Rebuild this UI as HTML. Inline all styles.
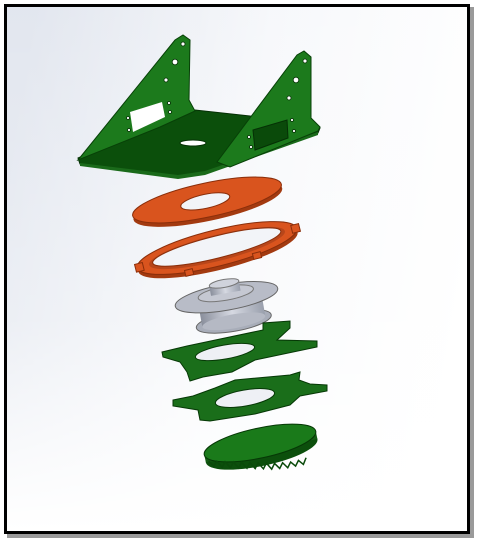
<!DOCTYPE html>
<html><head><meta charset="utf-8"><style>
html,body{margin:0;padding:0;background:#fff;width:478px;height:541px;overflow:hidden}
svg{display:block}
</style></head><body>
<svg width="478" height="541" viewBox="0 0 478 541">
<defs>
<linearGradient id="bg" x1="0" y1="0.3" x2="1" y2="0.5">
<stop offset="0" stop-color="#d6dce8"/><stop offset="0.5" stop-color="#f3f5f9"/><stop offset="1" stop-color="#ffffff"/>
</linearGradient>
<linearGradient id="bg2" x1="0" y1="0" x2="0" y2="1">
<stop offset="0" stop-color="#fff" stop-opacity="0.3"/><stop offset="0.6" stop-color="#fff" stop-opacity="0.5"/><stop offset="1" stop-color="#fff" stop-opacity="1"/>
</linearGradient>
<linearGradient id="silver" x1="0" y1="0" x2="1" y2="0">
<stop offset="0" stop-color="#8a8f9c"/><stop offset="0.5" stop-color="#d6d9e2"/><stop offset="1" stop-color="#9aa0ad"/>
</linearGradient>
</defs>
<rect x="7" y="7" width="467" height="531" fill="#9a9a9a"/>
<rect x="4" y="4" width="466" height="530" fill="#000"/>
<rect x="7" y="7" width="460" height="524" fill="url(#bg)"/>
<rect x="7" y="7" width="460" height="524" fill="url(#bg2)"/>

<g>
<polygon points="78,158 195,110 250,116 320,128 318,133 205,172 178,176 80,164" fill="#0b4f0b" stroke="#053005" stroke-width="1"/>
<polygon points="80,163 178,175 205,171 318,132 318,135 205,175 178,179 80,166" fill="#1a6a1a"/>
<polygon points="78,160 175,40 183,35 190,40 189,100 195,111 160,127" fill="#1c7a1c" stroke="#074007" stroke-width="1"/>
<polygon points="130,112 162,102 165,117 133,132" fill="#fff"/>
<polygon points="217,162 297,55 304,51 311,57 311,118 320,127 318,131 230,167" fill="#1c7a1c" stroke="#074007" stroke-width="1"/>
<polygon points="253,130 287,120 288,138 255,150" fill="#0a4a0a" stroke="#053005"/>
<g fill="#fff" stroke="#053005" stroke-width="0.8">
<circle cx="183" cy="44" r="2"/><circle cx="175" cy="62" r="2.8"/><circle cx="166" cy="80" r="2"/><circle cx="169" cy="103" r="1.5"/><circle cx="170" cy="112" r="1.5"/><circle cx="128" cy="118" r="1.5"/><circle cx="129" cy="130" r="1.5"/>
<circle cx="305" cy="61" r="2"/><circle cx="296" cy="80" r="2.8"/><circle cx="289" cy="98" r="2"/><circle cx="292" cy="120" r="1.5"/><circle cx="294" cy="131" r="1.5"/><circle cx="249" cy="137" r="1.5"/><circle cx="251" cy="147" r="1.5"/>
</g>
<ellipse cx="193" cy="143" rx="13" ry="3" fill="#fff" stroke="#053005"/>
</g>

<g transform="rotate(-12 207 200)">
<ellipse cx="207" cy="204" rx="76" ry="17" fill="#a33a10"/>
<ellipse cx="207" cy="200" rx="76" ry="17" fill="#d9541e" stroke="#8a2e0a"/>
<ellipse cx="205" cy="201" rx="25" ry="7" fill="#f2f4f8" stroke="#8a2e0a"/>
</g>
<g transform="rotate(-14 217 248)">
<ellipse cx="217" cy="252" rx="82" ry="18" fill="#a33a10"/>
<ellipse cx="217" cy="248" rx="82" ry="18" fill="#d9541e" stroke="#8a2e0a"/>
<ellipse cx="217" cy="248" rx="70" ry="13" fill="#b8461a"/>
<ellipse cx="217" cy="247" rx="66" ry="11" fill="#f2f4f8" stroke="#8a2e0a"/>
<rect x="133" y="244" width="8" height="8" fill="#d9541e" stroke="#8a2e0a"/>
<rect x="294" y="244" width="8" height="8" fill="#d9541e" stroke="#8a2e0a"/>
<rect x="180" y="262" width="8" height="6" fill="#d9541e" stroke="#8a2e0a"/>
<rect x="250" y="262" width="8" height="6" fill="#d9541e" stroke="#8a2e0a"/>
</g>
<g transform="rotate(-10 228 300)">
<ellipse cx="230" cy="322" rx="38" ry="10" fill="#a8adb9" stroke="#666"/>
<rect x="198" y="295" width="64" height="27" fill="url(#silver)"/>
<ellipse cx="230" cy="322" rx="32" ry="7" fill="#b5b9c4"/>
<ellipse cx="227" cy="297" rx="52" ry="13" fill="#b8bcc7" stroke="#666"/>
<ellipse cx="227" cy="293" rx="28" ry="7" fill="#c5c8d2" stroke="#777"/>
<rect x="212" y="283" width="30" height="10" fill="url(#silver)"/>
<ellipse cx="227" cy="283" rx="15" ry="4" fill="#d0d3dc" stroke="#777"/>
</g>
<g>
<polygon points="162,352 187,346 263,330 263,323 290,321 290,328 277,340 317,341 317,347 255,360 232,372 203,377 190,381 187,372 180,362 163,357" fill="#1a6e1a" stroke="#063806"/>
<ellipse cx="225" cy="352" rx="30" ry="7" transform="rotate(-10 225 352)" fill="#eef0f5" stroke="#063806"/>
</g>
<g>
<polygon points="173,400 193,396 215,388 235,380 290,375 300,372 299,380 310,384 327,385 327,391 300,396 290,405 255,414 210,421 200,420 198,410 173,406" fill="#1a6e1a" stroke="#063806"/>
<ellipse cx="245" cy="398" rx="30" ry="8" transform="rotate(-10 245 398)" fill="#eef0f5" stroke="#063806"/>
</g>
<g transform="rotate(-12 260 443)">
<ellipse cx="260" cy="451" rx="57" ry="15" fill="#0c4f0c"/>
<rect x="203" y="443" width="114" height="8" fill="#145c14"/>
<ellipse cx="260" cy="443" rx="57" ry="15" fill="#1a7a1a" stroke="#063806"/>
<path d="M206 450 l4 6 l4 -4 l4 7 l4 -5 l4 7 l4 -5 l4 7 l4 -5 l4 7 l4 -5 l4 7 l4 -5 l4 7 l4 -5 l4 7 l4 -5 l4 6 l4 -5 l4 6 l4 -5 l4 5 l4 -5 l4 5 l4 -6" fill="none" stroke="#0a4a0a" stroke-width="1.5"/>
</g>
</svg>
</body></html>
